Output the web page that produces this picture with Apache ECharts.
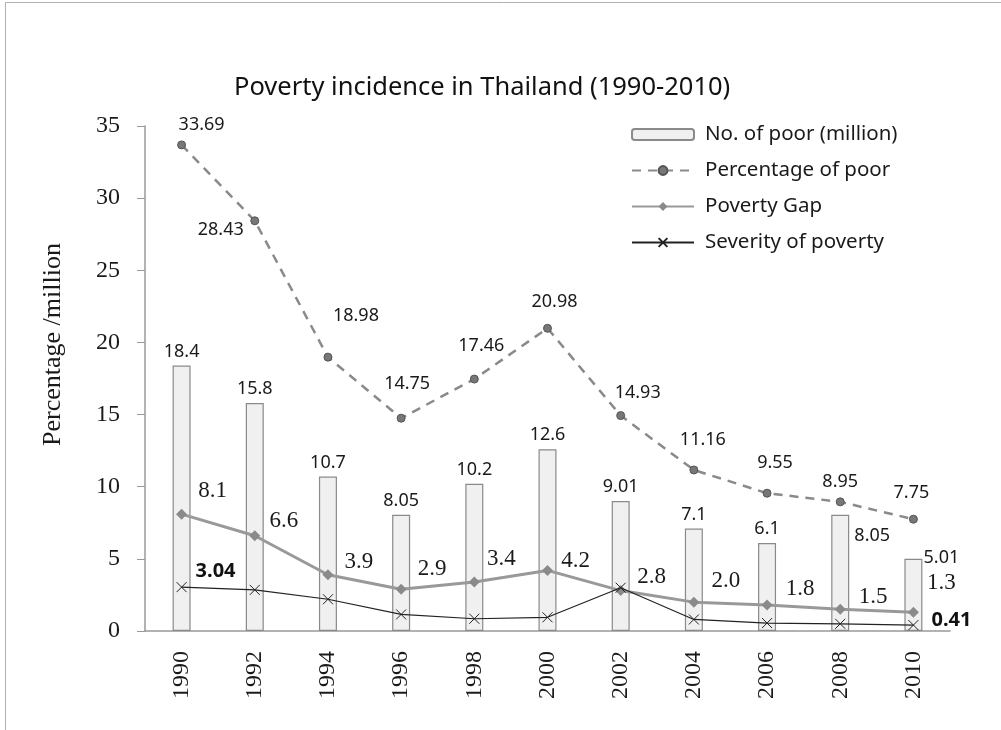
<!DOCTYPE html>
<html>
<head>
<meta charset="utf-8">
<script src="https://cdn.jsdelivr.net/npm/echarts@6/dist/echarts.min.js"></script>
<style>html,body{margin:0;padding:0;background:#fff;}#c{width:1001px;height:730px;}</style>
</head>
<body>
<div id="c"></div>
<script>
const years = ['1990','1992','1994','1996','1998','2000','2002','2004','2006','2008','2010'];
const noOfPoor = [18.4, 15.8, 10.7, 8.05, 10.2, 12.6, 9.01, 7.1, 6.1, 8.05, 5.01];
const percentPoor = [33.69, 28.43, 18.98, 14.75, 17.46, 20.98, 14.93, 11.16, 9.55, 8.95, 7.75];
const povertyGap = [8.1, 6.6, 3.9, 2.9, 3.4, 4.2, 2.8, 2.0, 1.8, 1.5, 1.3];
const severity = [3.04, 2.85, 2.2, 1.15, 0.85, 0.95, 3.0, 0.8, 0.55, 0.5, 0.41];
const gapLabels = ['8.1','6.6','3.9','2.9','3.4','4.2','2.8','2.0','1.8','1.5','1.3'];
const severityLabels = ['3.04','','','','','','','','','','0.41'];

// label layout (offsets from the point, px)
const pctOffsets = [[20,-20],[-34,9],[28,-41],[6,-34],[7,-33],[7,-26],[17,-23],[9,-30],[8,-30],[0,-20],[-2,-26]];
const gapOffsets = [[31,-23],[29,-15],[31,-13],[31,-20],[27,-23],[28,-9],[31,-14],[32,-21],[33,-16],[33,-12],[28,-29]];
const sevOffsets = [[34,-16],null,null,null,null,null,null,null,null,null,[38,-5]];
const barOffsets = {9:[32,35], 10:[28,13]};

const sans = '"Noto Sans", "Open Sans", sans-serif';
const serif = '"Liberation Serif", "DejaVu Serif", serif';

const chart = echarts.init(document.getElementById('c'));

const barData = noOfPoor.map((v,i)=>{
  const o = barOffsets[i];
  return o ? {value:v, label:{offset:o}} : v;
});
const pctData = percentPoor.map((v,i)=>({value:v, label:{offset:pctOffsets[i]}}));
const gapData = povertyGap.map((v,i)=>({value:v, label:{offset:gapOffsets[i], formatter:gapLabels[i]}}));
const sevData = severity.map((v,i)=>sevOffsets[i] ? {value:v, label:{show:true, offset:sevOffsets[i], formatter:severityLabels[i]}} : {value:v});

chart.setOption({
  backgroundColor:'#fff',
  animation:false,
  title:{
    text:'Poverty incidence in Thailand (1990-2010)',
    left:229, top:70,
    textStyle:{fontFamily:sans, fontSize:25.5, fontWeight:'normal', color:'#111'}
  },
  graphic:[{type:'rect', shape:{x:5.5,y:2.5,width:1100,height:900}, style:{fill:'none', stroke:'#b0b0b0', lineWidth:1}, silent:true}],
  legend:{
    orient:'vertical', left:626, top:119,
    itemWidth:62, itemHeight:11, itemGap:15,
    textStyle:{fontFamily:sans, fontSize:20.5, color:'#1a1a1a', lineHeight:21, padding:[0,0,0,6]},
    data:['No. of poor (million)','Percentage of poor','Poverty Gap','Severity of poverty']
  },
  grid:{left:145, right:51, top:126, bottom:99, containLabel:false},
  xAxis:{
    type:'category', data:years,
    axisLine:{lineStyle:{color:'#999', width:1.5}},
    axisTick:{show:false},
    axisLabel:{rotate:90, margin:20, fontFamily:serif, fontSize:24, color:'#1a1a1a'}
  },
  yAxis:{
    type:'value', min:0, max:35, interval:5,
    name:'Percentage /million', nameLocation:'middle', nameGap:79,
    nameTextStyle:{fontFamily:serif, fontSize:26, color:'#1a1a1a', padding:[0,0,0,68]},
    axisLine:{show:true, lineStyle:{color:'#999', width:1.5}},
    axisTick:{show:true, inside:false, length:8, lineStyle:{color:'#999'}},
    splitLine:{show:false},
    axisLabel:{margin:25, fontFamily:serif, fontSize:24, color:'#1a1a1a'}
  },
  series:[
    {
      name:'No. of poor (million)', type:'bar', data:barData, barWidth:18,
      itemStyle:{color:'#f0f0f0', borderColor:'#8a8a8a', borderWidth:1.2},
      label:{show:true, position:'top', distance:5, fontFamily:sans, fontSize:18, color:'#1a1a1a'},
      z:1
    },
    {
      name:'Percentage of poor', type:'line', data:pctData,
      symbol:'circle', symbolSize:8,
      lineStyle:{color:'#8a8a8a', width:2.5, type:[9,7]},
      itemStyle:{color:'#777', borderColor:'#555', borderWidth:1},
      label:{show:true, position:'inside', align:'center', verticalAlign:'middle', fontFamily:sans, fontSize:18, color:'#1a1a1a'},
      z:3
    },
    {
      name:'Poverty Gap', type:'line', data:gapData,
      symbol:'diamond', symbolSize:11,
      lineStyle:{color:'#999', width:3},
      itemStyle:{color:'#8a8a8a'},
      label:{show:true, position:'inside', align:'center', verticalAlign:'middle', fontFamily:serif, fontSize:23, color:'#1a1a1a'},
      z:4
    },
    {
      name:'Severity of poverty', type:'line', data:sevData,
      symbol:'path://M0,0L10,10M10,0L0,10', symbolSize:10,
      lineStyle:{color:'#222', width:1.2},
      itemStyle:{color:'#222', borderColor:'#222', borderWidth:1},
      label:{show:false, position:'inside', align:'center', verticalAlign:'middle', fontFamily:sans, fontSize:20, fontWeight:'bold', color:'#111'},
      z:5
    }
  ]
});
</script>
</body>
</html>
